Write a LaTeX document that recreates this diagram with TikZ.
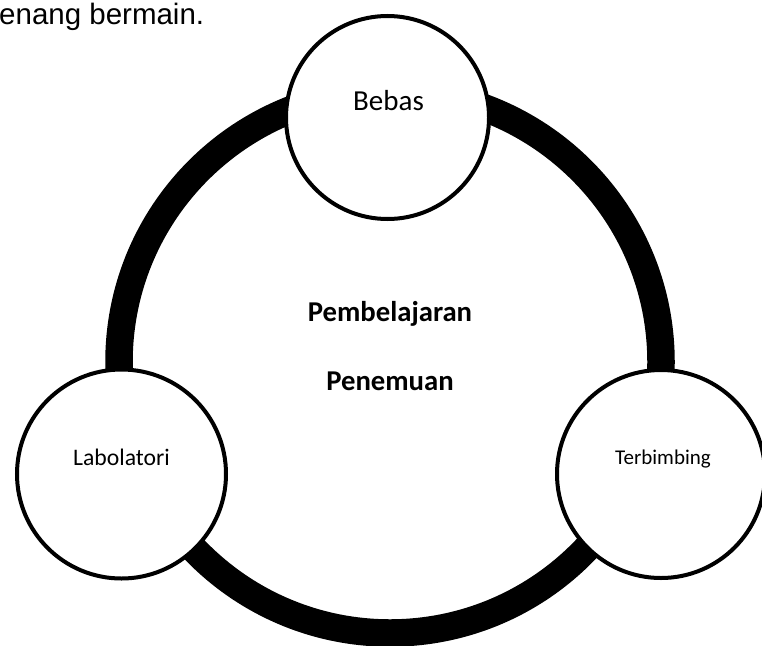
\documentclass[tikz,border=0pt]{standalone}
\usepackage{fontspec}
\setmainfont{Carlito}
\newfontfamily\arialfont{Liberation Sans}
\usepackage{tikz}

\begin{document}
\begin{tikzpicture}[x=1pt, y=-1pt,
		ringline/.style = {circle, draw, line width=27.5pt, minimum size=542pt, inner sep=0pt},
		cyclenode/.style = {circle, draw, line width=4pt, fill=white, minimum size=208pt, inner sep=0pt},
		cycletext/.style = {anchor=base, inner sep=0pt}]
			\useasboundingbox (0,0) rectangle (762,645);
			\clip (0,0) rectangle (762,645);
			\node[anchor=base west, inner sep=0pt, font=\arialfont\fontsize{29.5}{35}\selectfont] (intro) at (-1,24) {enang bermain.};
			\node[ringline] (ring) at (390,362) {};
			\node[cyclenode, minimum size=203pt] (bebas) at (387.5,117.5) {};
			\node[cyclenode, minimum size=209pt] (labolatori) at (121.5,474) {};
			\node[cyclenode] (terbimbing) at (661,474) {};
			\node[cycletext, font=\fontsize{29}{35}\selectfont] (bebastext) at (388.5,110.7) {Bebas};
			\node[cycletext, font=\fontsize{23.7}{28}\selectfont] (labolatoritext) at (121.5,465) {Labolatori};
			\node[cycletext, font=\fontsize{21}{25}\selectfont] (terbimbingtext) at (663,464) {Terbimbing};
			\node[cycletext, font=\bfseries\fontsize{28.7}{34}\selectfont] (title) at (390,321.7) {Pembelajaran};
			\node[cycletext, font=\bfseries\fontsize{28.7}{34}\selectfont] (subtitle) at (390,390) {Penemuan};
		\end{tikzpicture}
\end{document}
